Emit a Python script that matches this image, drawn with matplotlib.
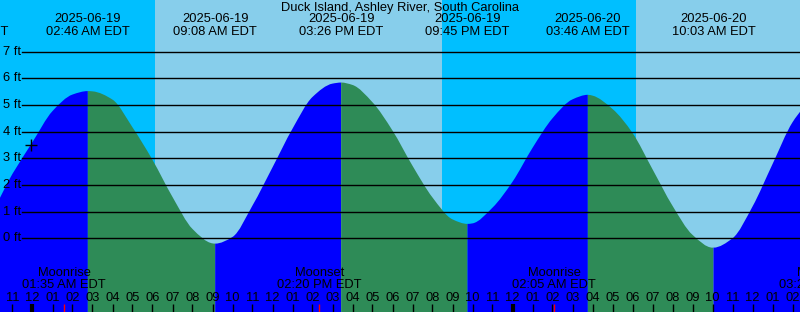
import numpy as np
import pandas as pd
import matplotlib
matplotlib.use("Agg")
import matplotlib.pyplot as plt
import matplotlib.dates as mdates
from matplotlib.path import Path
from matplotlib.patches import PathPatch

station = "Duck Island, Ashley River, South Carolina"

# tide height read every hour, starting 2025-06-18 22:00 EDT
hour_start = "2025-06-18 22:00"
hourly_ft = [1.15, 2.42, 3.61, 4.77, 5.39, 5.51, 5.20, 4.16, 2.94, 1.55,
             0.35, -0.19, 0.05, 1.23, 2.66, 4.11, 5.30, 5.80, 5.75, 5.10,
             4.04, 2.72, 1.53, 0.71, 0.56, 1.15, 2.12, 3.39, 4.50, 5.21,
             5.35, 4.85, 3.95, 2.59, 1.22, 0.13, -0.35, 0.00, 1.19, 2.78,
             4.35, 5.30]

# highs and lows
extreme_times = ["2025-06-18 20:40", "2025-06-19 02:46", "2025-06-19 09:08",
                 "2025-06-19 15:26", "2025-06-19 21:45", "2025-06-20 03:46",
                 "2025-06-20 10:03"]
extreme_ft = [0.70, 5.52, -0.20, 5.84, 0.54, 5.38, -0.35]

moon_times = ["2025-06-19 01:35", "2025-06-19 14:20", "2025-06-20 02:05",
              "2025-06-20 15:26"]
moon_events = ["Moonrise", "Moonset", "Moonrise", "Moonset"]

day_start = ["2025-06-19 06:07", "2025-06-20 06:10"]
day_end = ["2025-06-19 20:28", "2025-06-20 20:29"]

now_time = "2025-06-18 23:54"
now_ft = 3.48

ft_levels = [0, 1, 2, 3, 4, 5, 6, 7]

NIGHT = "#00BFFF"
DAY = "#87CEEB"
RISING = "#0000FF"
FALLING = "#2E8B57"
FS = 9.3
plt.rcParams["font.family"] = ["Liberation Sans", "DejaVu Sans"]

hour_t = pd.date_range(hour_start, periods=len(hourly_ft), freq="h")
ext_t = pd.to_datetime(extreme_times)

tide = pd.concat([
    pd.Series(hourly_ft, index=hour_t),
    pd.Series(extreme_ft, index=ext_t),
]).sort_index()
tide = tide[~tide.index.duplicated()]
tx = mdates.date2num(tide.index.to_pydatetime())
ty = tide.values


def tangents(x, y):
    # monotone (Fritsch-Carlson) slopes so highs and lows stay flat
    h = np.diff(x)
    d = np.diff(y) / h
    m = np.zeros_like(y)
    m[0], m[-1] = d[0], d[-1]
    for k in range(1, len(y) - 1):
        if d[k - 1] * d[k] > 0:
            h0, h1 = h[k - 1], h[k]
            m[k] = 3 * (h0 + h1) / ((2 * h1 + h0) / d[k - 1] + (h1 + 2 * h0) / d[k])
    return m


slopes = tangents(tx, ty)


def tide_patch(i0, i1, color, base=-3):
    verts = [(tx[i0], base), (tx[i0], ty[i0])]
    codes = [Path.MOVETO, Path.LINETO]
    for k in range(i0, i1):
        h = tx[k + 1] - tx[k]
        verts += [(tx[k] + h / 3, ty[k] + slopes[k] * h / 3),
                  (tx[k + 1] - h / 3, ty[k + 1] - slopes[k + 1] * h / 3),
                  (tx[k + 1], ty[k + 1])]
        codes += [Path.CURVE4] * 3
    verts += [(tx[i1], base), (tx[i0], base)]
    codes += [Path.LINETO, Path.CLOSEPOLY]
    return PathPatch(Path(verts, codes), facecolor=color, lw=0, zorder=1)


fig = plt.figure(figsize=(8, 3.12), dpi=100)
ax = fig.add_axes([0, 0, 1, 1])
ax.set_facecolor(NIGHT)
for sp in ax.spines.values():
    sp.set_visible(False)
ax.set_xticks([])
ax.set_yticks([])
ax.set_xlim(pd.Timestamp("2025-06-18 22:22:30"), pd.Timestamp("2025-06-20 14:22:30"))
ax.set_ylim(-2.763, 8.935)

for s, e in zip(day_start, day_end):
    ax.axvspan(pd.Timestamp(s), pd.Timestamp(e), color=DAY, lw=0, zorder=0)

# flood / ebb fills split at each high and low
ext_idx = [int(np.where(tide.index == t)[0][0]) for t in ext_t] + [len(ty) - 1]
for i in range(len(ext_idx) - 1):
    if i < len(extreme_ft) - 1:
        up = extreme_ft[i + 1] > extreme_ft[i]
    else:
        up = extreme_ft[i] < extreme_ft[i - 1]
    ax.add_patch(tide_patch(ext_idx[i], ext_idx[i + 1], RISING if up else FALLING))

xt = ax.get_xaxis_transform()
for lv in ft_levels:
    ax.axhline(lv, xmin=22 / 800, color="black", lw=1, zorder=2)
    ax.text(3 / 800, lv, f"{lv} ft", transform=ax.get_yaxis_transform(),
            ha="left", va="center", fontsize=FS, zorder=3)

ax.plot(pd.Timestamp(now_time), now_ft, marker="+", color="black", ms=9,
        mew=1, zorder=3)

ax.text(0.5, 1 - 7.5 / 312, station, transform=ax.transAxes, ha="center",
        va="center", fontsize=FS)
for t in ext_t:
    ax.text(t, 1 - 19.5 / 312, t.strftime("%Y-%m-%d"), transform=xt,
            ha="center", va="center", fontsize=FS)
    ax.text(t, 1 - 31.7 / 312, t.strftime("%I:%M %p EDT"), transform=xt,
            ha="center", va="center", fontsize=FS)

for t, ev in zip(pd.to_datetime(moon_times), moon_events):
    ax.text(t, 38.7 / 312, ev, transform=xt, ha="center", va="center",
            fontsize=FS)
    ax.text(t, 27 / 312, t.strftime("%I:%M %p EDT"), transform=xt,
            ha="center", va="center", fontsize=FS)
    ax.vlines(t, 0, 8 / 312, transform=xt, color="red", lw=1, zorder=4)

for t in pd.date_range("2025-06-18 22:00", "2025-06-20 15:00", freq="h"):
    midnight = t.hour == 0
    ax.vlines(t, 0, 8 / 312, transform=xt, color="black",
              lw=3 if midnight else 1, zorder=3)
    ax.text(t, 14.3 / 312, t.strftime("%I"), transform=xt, ha="center",
            va="center", fontsize=FS)

fig.savefig("out.png", dpi=100)
